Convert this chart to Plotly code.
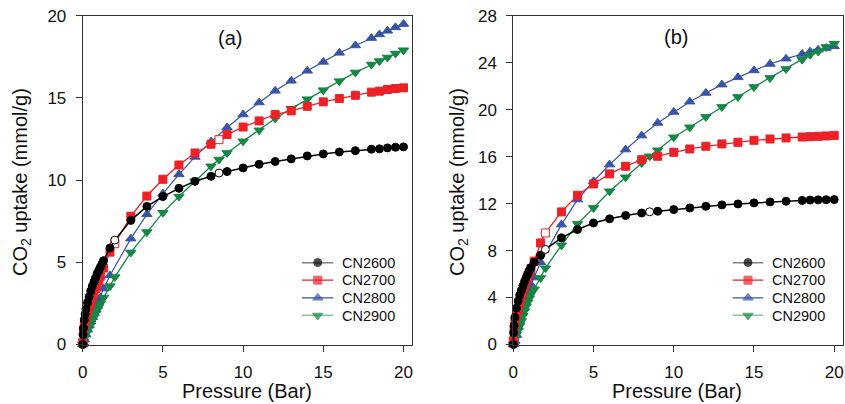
import plotly.graph_objects as go

# ---------------- data: panel (a) ----------------
a_cn2600_x = [0, 0.02, 0.05, 0.1, 0.15, 0.2, 0.3, 0.4, 0.5, 0.6, 0.7, 0.8, 0.9, 1.0, 1.1, 1.2, 1.3, 1.7, 2.0,
              3, 4, 5, 6, 7, 8, 8.5, 9, 10, 11, 12, 13, 14, 15, 16, 17, 18, 18.5, 19, 19.5, 20]
a_cn2600_y = [0, 0.6, 1.0, 1.5, 1.85, 2.15, 2.55, 2.9, 3.25, 3.55, 3.8, 4.05, 4.3, 4.5, 4.7, 4.9, 5.1, 5.87, 6.35,
              7.55, 8.4, 9.0, 9.5, 9.93, 10.23, 10.43, 10.52, 10.74, 10.96, 11.13, 11.29, 11.47, 11.59, 11.71,
              11.79, 11.88, 11.9, 11.96, 12.0, 12.02]
a_cn2600_open = [2.0, 8.5]

a_cn2700_x = [0, 0.05, 0.1, 0.2, 0.3, 0.4, 0.5, 0.6, 0.7, 0.8, 0.9, 1.0, 1.1, 1.3, 1.7, 2.0,
              3, 4, 5, 6, 7, 8, 8.5, 9, 10, 11, 12, 13, 14, 15, 16, 17, 18, 18.5, 19, 19.5, 20]
a_cn2700_y = [0.1, 0.85, 1.15, 1.55, 1.95, 2.3, 2.6, 2.9, 3.15, 3.4, 3.65, 3.9, 4.15, 4.65, 5.62, 6.13,
              7.8, 9.03, 10.05, 10.92, 11.65, 12.18, 12.46, 12.77, 13.23, 13.6, 13.99, 14.21, 14.49, 14.76,
              14.96, 15.16, 15.35, 15.41, 15.51, 15.57, 15.61]
a_cn2700_open = [2.0, 8.5]

a_cn2800_x = [0, 0.05, 0.1, 0.2, 0.3, 0.4, 0.5, 0.6, 0.7, 0.8, 0.9, 1.0, 1.1, 1.3, 1.7,
              3, 4, 5, 6, 7, 8, 9, 10, 11, 12, 13, 14, 15, 16, 17, 18, 18.5, 19, 19.5, 20]
a_cn2800_y = [0, 0.1, 0.3, 0.6, 0.9, 1.15, 1.4, 1.65, 1.9, 2.1, 2.35, 2.6, 2.85, 3.4, 4.2,
              6.44, 7.92, 9.18, 10.35, 11.41, 12.34, 13.2, 13.99, 14.72, 15.43, 16.04, 16.65, 17.19, 17.74,
              18.19, 18.64, 18.86, 19.08, 19.29, 19.49]
a_cn2800_open = []

a_cn2900_x = [0, 0.05, 0.1, 0.2, 0.3, 0.4, 0.5, 0.6, 0.7, 0.8, 0.9, 1.0, 1.1, 1.3, 1.7, 2.0,
              3, 4, 5, 6, 7, 8, 8.5, 9, 10, 11, 12, 13, 14, 15, 16, 17, 18, 18.5, 19, 19.5, 20]
a_cn2900_y = [0, 0.2, 0.4, 0.65, 0.9, 1.1, 1.3, 1.5, 1.7, 1.9, 2.1, 2.3, 2.5, 2.85, 3.55, 4.1,
              5.6, 6.84, 8.02, 9.0, 9.93, 10.84, 11.25, 11.65, 12.36, 13.03, 13.75, 14.35, 14.92, 15.47,
              16.02, 16.55, 17.03, 17.24, 17.46, 17.7, 17.9]
a_cn2900_open = []

# ---------------- data: panel (b) ----------------
b_cn2600_x = [0, 0.02, 0.05, 0.1, 0.2, 0.3, 0.4, 0.5, 0.6, 0.7, 0.8, 0.9, 1.0, 1.1, 1.3, 1.7, 2.0,
              3, 4, 5, 6, 7, 8, 8.5, 9, 10, 11, 12, 13, 14, 15, 16, 17, 18, 18.5, 19, 19.5, 20]
b_cn2600_y = [0, 1.0, 1.6, 2.3, 3.1, 3.7, 4.2, 4.6, 5.0, 5.35, 5.7, 6.0, 6.3, 6.55, 7.0, 7.6, 8.1,
              9.08, 9.79, 10.35, 10.7, 10.98, 11.2, 11.3, 11.35, 11.49, 11.63, 11.77, 11.89, 11.97, 12.06,
              12.14, 12.2, 12.27, 12.3, 12.32, 12.33, 12.34]
b_cn2600_open = [2.0, 8.5]

b_cn2700_x = [0, 0.05, 0.1, 0.2, 0.3, 0.4, 0.5, 0.6, 0.7, 0.8, 0.9, 1.0, 1.1, 1.3, 1.7, 2.0,
              3, 4, 5, 6, 7, 8, 9, 10, 11, 12, 13, 14, 15, 16, 17, 18, 18.5, 19, 19.5, 20]
b_cn2700_y = [0.3, 1.3, 1.85, 2.5, 3.0, 3.55, 4.1, 4.55, 4.95, 5.35, 5.75, 6.1, 6.45, 7.1, 8.65, 9.5,
              11.29, 12.71, 13.67, 14.53, 15.18, 15.74, 16.03, 16.37, 16.65, 16.88, 17.08, 17.22, 17.39,
              17.5, 17.59, 17.67, 17.7, 17.73, 17.76, 17.81]
b_cn2700_open = [2.0]

b_cn2800_x = [0, 0.05, 0.1, 0.2, 0.3, 0.4, 0.5, 0.6, 0.7, 0.8, 0.9, 1.0, 1.1, 1.3, 1.7,
              3, 4, 5, 6, 7, 8, 9, 10, 11, 12, 13, 14, 15, 16, 17, 18, 18.5, 19, 19.5, 20]
b_cn2800_y = [0, 0.1, 0.3, 0.8, 1.5, 2.1, 2.65, 3.1, 3.5, 3.9, 4.3, 4.7, 5.1, 5.7, 7.0,
              10.21, 12.34, 13.9, 15.32, 16.6, 17.79, 18.87, 19.8, 20.68, 21.42, 22.13, 22.75, 23.34,
              23.89, 24.34, 24.74, 24.94, 25.1, 25.25, 25.39]
b_cn2800_open = []

b_cn2900_x = [0, 0.05, 0.1, 0.2, 0.3, 0.4, 0.5, 0.6, 0.7, 0.8, 0.9, 1.0, 1.1, 1.3, 1.7, 2.0,
              3, 4, 5, 6, 7, 8, 8.5, 9, 10, 11, 12, 13, 14, 15, 16, 17, 18, 18.5, 19, 19.5, 20]
b_cn2900_y = [0, 0.3, 0.55, 0.85, 1.2, 1.6, 2.0, 2.45, 2.85, 3.25, 3.6, 3.95, 4.3, 4.7, 5.67, 6.5,
              8.45, 10.27, 11.63, 13.05, 14.24, 15.46, 16.03, 16.54, 17.65, 18.5, 19.38, 20.23, 21.08,
              21.93, 22.7, 23.46, 24.26, 24.68, 24.96, 25.33, 25.62]
b_cn2900_open = []

series_names = ["CN2600", "CN2700", "CN2800", "CN2900"]
panel_labels = ["(a)", "(b)"]
x_title = "Pressure (Bar)"
y_title = "CO<sub>2</sub> uptake (mmol/g)"
x_ticks = [0, 5, 10, 15, 20]
ya_ticks = [0, 5, 10, 15, 20]
yb_ticks = [0, 4, 8, 12, 16, 20, 24, 28]

# ---------------- styles ----------------
W, H = 845, 404
FONT = "Liberation Sans, Arial, sans-serif"
colors = {"CN2600": "#000000", "CN2700": "#EC2027", "CN2800": "#3A54A5", "CN2900": "#148744"}
symbols = {"CN2600": "circle", "CN2700": "square", "CN2800": "triangle-up", "CN2900": "triangle-down"}
msize = {"CN2600": 8, "CN2700": 8, "CN2800": 9, "CN2900": 9}
lwidth = {"CN2600": 1.5, "CN2700": 1.3, "CN2800": 1.2, "CN2900": 1.3}
draw_order = ["CN2800", "CN2900", "CN2700", "CN2600"]

panels = {
    "a": {"CN2600": (a_cn2600_x, a_cn2600_y, a_cn2600_open),
          "CN2700": (a_cn2700_x, a_cn2700_y, a_cn2700_open),
          "CN2800": (a_cn2800_x, a_cn2800_y, a_cn2800_open),
          "CN2900": (a_cn2900_x, a_cn2900_y, a_cn2900_open)},
    "b": {"CN2600": (b_cn2600_x, b_cn2600_y, b_cn2600_open),
          "CN2700": (b_cn2700_x, b_cn2700_y, b_cn2700_open),
          "CN2800": (b_cn2800_x, b_cn2800_y, b_cn2800_open),
          "CN2900": (b_cn2900_x, b_cn2900_y, b_cn2900_open)},
}


def px_x(p):
    return p / W


def px_y(p):
    return 1 - p / H


fig = go.Figure()
for pkey, xref, yref in [("a", "x", "y"), ("b", "x2", "y2")]:
    for name in draw_order:
        xs, ys, opn = panels[pkey][name]
        c = colors[name]
        fills = ["white" if x in opn else c for x in xs]
        fig.add_trace(go.Scatter(
            x=xs, y=ys, mode="lines+markers", name=name,
            xaxis=xref, yaxis=yref, showlegend=False,
            line=dict(color=c, width=lwidth[name]),
            marker=dict(symbol=symbols[name], size=msize[name], color=fills,
                        line=dict(color=c, width=1)),
            cliponaxis=False,
        ))

# legend keys drawn on small hidden axes (one per panel)
for lx, ly in [("x3", "y3"), ("x4", "y4")]:
    for i, name in enumerate(series_names):
        c = colors[name]
        fig.add_trace(go.Scatter(
            x=[0, 0.5, 1], y=[i, i, i], mode="lines+markers", xaxis=lx, yaxis=ly,
            showlegend=False, hoverinfo="skip", cliponaxis=False,
            line=dict(color=c, width=lwidth[name]),
            marker=dict(symbol=symbols[name], size=[0, msize[name], 0], color=c,
                        line=dict(color=c, width=1)),
        ))
        fig.add_annotation(text=name, xref=lx, yref=ly, x=1, y=i, xshift=6,
                           xanchor="left", yanchor="middle", showarrow=False,
                           font=dict(family=FONT, size=14.5, color="#111111"))

common_axis = dict(showline=True, linecolor="#333333", linewidth=1, mirror=True,
                   ticks="outside", ticklen=6, tickwidth=1, tickcolor="#333333",
                   showgrid=False, zeroline=False, automargin=False,
                   tickfont=dict(family=FONT, size=17, color="#111111"))
hidden_axis = dict(visible=False, showgrid=False, zeroline=False, fixedrange=True)

ydom = [px_y(344.5), px_y(15.7)]
legdom_y = [px_y(315.5), px_y(262.5)]
fig.update_layout(
    width=W, height=H,
    margin=dict(l=0, r=0, t=0, b=0, autoexpand=False),
    paper_bgcolor="white", plot_bgcolor="rgba(0,0,0,0)",
    showlegend=False,
    xaxis=dict(domain=[px_x(82.7), px_x(412)], range=[0, 20.53], tickvals=x_ticks,
               anchor="y", ticklabelstandoff=6, **common_axis),
    yaxis=dict(domain=ydom, range=[0, 20], tickvals=ya_ticks, anchor="x",
               ticklabelstandoff=6, **common_axis),
    xaxis2=dict(domain=[px_x(513.3), px_x(842.7)], range=[0, 20.53], tickvals=x_ticks,
                anchor="y2", ticklabelstandoff=6, **common_axis),
    yaxis2=dict(domain=ydom, range=[0, 28], tickvals=yb_ticks, anchor="x2",
                ticklabelstandoff=6, **common_axis),
    xaxis3=dict(domain=[px_x(302), px_x(333.5)], range=[0, 1], anchor="y3", **hidden_axis),
    yaxis3=dict(domain=legdom_y, range=[3, 0], anchor="x3", **hidden_axis),
    xaxis4=dict(domain=[px_x(732.5), px_x(763.5)], range=[0, 1], anchor="y4", **hidden_axis),
    yaxis4=dict(domain=legdom_y, range=[3, 0], anchor="x4", **hidden_axis),
)

annos = [
    dict(text=panel_labels[0], x=px_x(230), y=px_y(38)),
    dict(text=panel_labels[1], x=px_x(676), y=px_y(37)),
]
for a in annos:
    fig.add_annotation(xref="paper", yref="paper", xanchor="center", yanchor="middle",
                       showarrow=False, font=dict(family=FONT, size=20, color="#111111"), **a)

for cx in [247, 677]:
    fig.add_annotation(text=x_title, xref="paper", yref="paper", x=px_x(cx), y=px_y(391),
                       xanchor="center", yanchor="middle", showarrow=False,
                       font=dict(family=FONT, size=20, color="#111111"))
for cx in [22, 459]:
    fig.add_annotation(text=y_title, xref="paper", yref="paper", x=px_x(cx), y=px_y(182),
                       xanchor="center", yanchor="middle", showarrow=False, textangle=-90,
                       font=dict(family=FONT, size=20, color="#111111"))

fig.write_html("out.html", config={"displayModeBar": False},
               post_script="document.body.style.margin='0px';document.body.style.padding='0px';")
